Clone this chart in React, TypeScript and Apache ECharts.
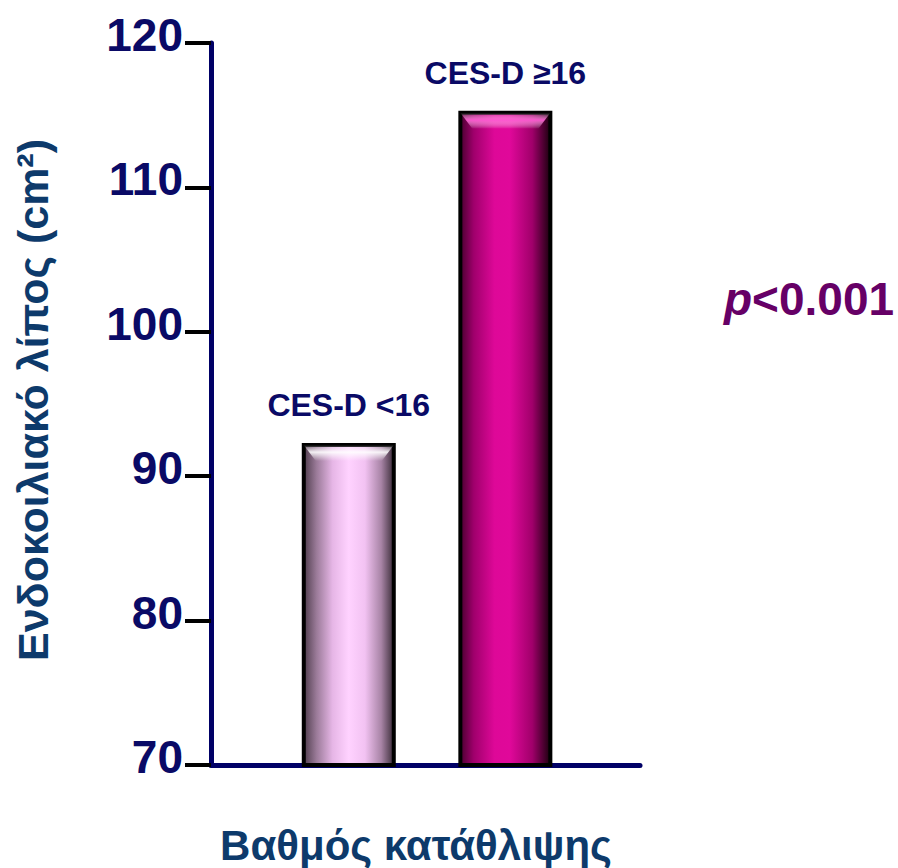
import React, { useEffect, useRef } from "react";
import * as echarts from "echarts";

const categories = ["CES-D <16", "CES-D ≥16"];
const values = [92.3, 115.3];
const yTicks = [70, 80, 90, 100, 110, 120];
const yAxisTitle = "Ενδοκοιλιακό λίπος (cm²)";
const xAxisTitle = "Βαθμός κατάθλιψης";
const pText = "<0.001";

const FONT = '"Liberation Sans", Arial, Helvetica, sans-serif';
const NAVY = "#0a0a66";

const barGradients = [
  new echarts.graphic.LinearGradient(0, 0, 1, 0, [
    { offset: 0, color: "#4e3c4c" },
    { offset: 0.14, color: "#9a7a98" },
    { offset: 0.32, color: "#e6b6e6" },
    { offset: 0.5, color: "#ffd2ff" },
    { offset: 0.68, color: "#f2c2f2" },
    { offset: 0.86, color: "#a884a6" },
    { offset: 1, color: "#3a2c38" },
  ]),
  new echarts.graphic.LinearGradient(0, 0, 1, 0, [
    { offset: 0, color: "#4a0030" },
    { offset: 0.15, color: "#a0006c" },
    { offset: 0.38, color: "#de0898" },
    { offset: 0.55, color: "#e0089a" },
    { offset: 0.8, color: "#a0006a" },
    { offset: 1, color: "#1a000e" },
  ]),
];
const bevelColors = ["rgba(255,255,255,0.9)", "rgba(255,90,210,0.95)"];

export default function App() {
  const ref = useRef<HTMLDivElement>(null);
  useEffect(() => {
    document.body.style.margin = "0";
    const chart = echarts.init(ref.current!, null, { renderer: "svg" });
    const barData = values.map((v, i) => ({
      value: [i + 1, v],
      itemStyle: { color: barGradients[i] },
    }));
    chart.setOption({
      animation: false,
      backgroundColor: "#ffffff",
      grid: { left: 211, right: 258, top: 43, bottom: 103, containLabel: false },
      xAxis: {
        type: "value",
        min: 0.12,
        max: 2.86,
        splitLine: { show: false },
        axisLabel: { show: false },
        axisTick: { show: false },
        axisLine: { show: true, onZero: false, lineStyle: { color: "#000066", width: 5 } },
      },
      yAxis: {
        type: "value",
        min: yTicks[0],
        max: yTicks[yTicks.length - 1],
        interval: 10,
        splitLine: { show: false },
        axisLine: { show: true, lineStyle: { color: "#000066", width: 5 } },
        axisTick: { show: true, length: 26, lineStyle: { color: "#000000", width: 4 } },
        axisLabel: {
          margin: 28,
          fontSize: 46,
          fontWeight: "bold",
          fontFamily: FONT,
          color: NAVY,
          verticalAlign: "bottom",
          lineHeight: 16,
        },
      },
      graphic: [
        {
          type: "text",
          x: 33,
          y: 400,
          rotation: Math.PI / 2,
          style: {
            text: yAxisTitle,
            fontSize: 43,
            fontWeight: "bold",
            fontFamily: FONT,
            fill: "#0d3a6b",
            align: "center",
            verticalAlign: "middle",
          },
        },
        {
          type: "text",
          x: 416,
          y: 845,
          style: {
            text: xAxisTitle,
            fontSize: 42,
            fontWeight: "bold",
            fontFamily: FONT,
            fill: "#0d3a6b",
            align: "center",
            verticalAlign: "middle",
          },
        },
        {
          type: "text",
          x: 724,
          y: 299,
          style: {
            text: "{i|p}{n|" + pText + "}",
            rich: {
              i: { fontSize: 46, fontWeight: "bold", fontStyle: "italic", fontFamily: FONT, fill: "#660066", color: "#660066" },
              n: { fontSize: 46, fontWeight: "bold", fontFamily: FONT, fill: "#660066", color: "#660066" },
            },
            align: "left",
            verticalAlign: "middle",
          },
        },
      ],
      series: [
        {
          type: "bar",
          data: barData,
          barWidth: 94,
          itemStyle: { borderColor: "#000000", borderWidth: 4 },
          label: {
            show: true,
            position: "top",
            distance: 22,
            formatter: (p: any) => categories[p.dataIndex],
            fontSize: 32,
            fontWeight: "bold",
            fontFamily: FONT,
            color: NAVY,
          },
          z: 2,
        },
        {
          type: "custom",
          z: 3,
          silent: true,
          data: values.map((v, i) => [i + 1, v]),
          renderItem: (params: any, api: any) => {
            const i = params.dataIndex;
            const top = api.coord([api.value(0), api.value(1)]);
            const half = 45;
            const x0 = top[0] - half;
            const x1 = top[0] + half;
            const y0 = top[1] + 2;
            const h = 16;
            const inset = 12;
            return {
              type: "polygon",
              shape: {
                points: [
                  [x0, y0],
                  [x1, y0],
                  [x1 - inset, y0 + h],
                  [x0 + inset, y0 + h],
                ],
              },
              style: {
                fill: new echarts.graphic.LinearGradient(0, 0, 0, 1, [
                  { offset: 0, color: "rgba(255,255,255,0)" },
                  { offset: 0.45, color: bevelColors[i] },
                  { offset: 1, color: "rgba(255,255,255,0)" },
                ]),
              },
            };
          },
        },
      ],
    });
    return () => chart.dispose();
  }, []);
  return <div ref={ref} style={{ width: 898, height: 868 }} />;
}
